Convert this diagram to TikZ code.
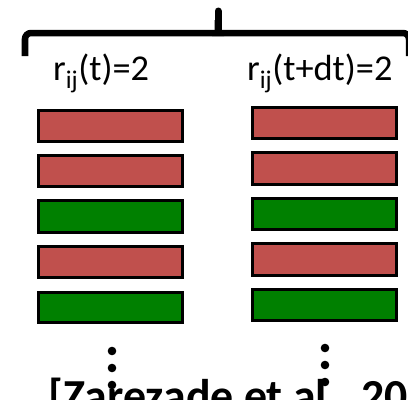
\documentclass[tikz,border=0pt]{standalone}
\usepackage{fontspec}
\setmainfont{Carlito}
\definecolor{barred}{HTML}{C0504D}
\definecolor{bargreen}{HTML}{008000}
\begin{document}
\begin{tikzpicture}[x=1bp,y=-1bp,
  bar/.style={draw=black,line width=3bp},
  redbar/.style={bar,fill=barred},
  greenbar/.style={bar,fill=bargreen},
  lbl/.style={font=\fontsize{36.5}{40}\selectfont,inner sep=0pt,anchor=base west},
  citestyle/.style={font=\fontsize{46}{48}\selectfont\bfseries,inner sep=0pt,anchor=base west}]
\useasboundingbox (0,0) rectangle (408,400);
\clip (0,0) rectangle (408,400);
% brace
\draw[line width=6.5bp,rounded corners=6bp] (25,56) -- (25,33) -- (409,33) -- (409,56);
\draw[line width=7bp,line cap=round] (218,31) -- (218,11);
\fill (212,36) .. controls (215,33) and (215,28) .. (214.5,20) -- (221.5,20) .. controls (221,28) and (221,33) .. (224,36) -- cycle;
% labels
\node[lbl] (l1) at (53,80) {r\textsubscript{ij}(t)=2};
\node[lbl] (l2) at (247,80) {r\textsubscript{ij}(t+dt)=2};
% left column
\draw[redbar]   (38,110) rectangle (182,141);
\draw[redbar]   (38,155) rectangle (182,186);
\draw[greenbar] (38,200) rectangle (182,232);
\draw[redbar]   (38,246) rectangle (182,277);
\draw[greenbar] (38,292) rectangle (182,322);
% right column
\draw[redbar]   (252,107) rectangle (396,138);
\draw[redbar]   (252,152) rectangle (396,184);
\draw[greenbar] (252,198) rectangle (396,229);
\draw[redbar]   (252,243) rectangle (396,275);
\draw[greenbar] (252,289) rectangle (396,320);
% citation
\node[citestyle] (cite) at (48,411) {[Zarezade et al., 20};
% dots
\foreach \y in {351,368,385} \fill (112,\y) circle (4.3bp);
\foreach \y in {348,365,382} \fill (325,\y) circle (4.3bp);
\end{tikzpicture}
\end{document}
